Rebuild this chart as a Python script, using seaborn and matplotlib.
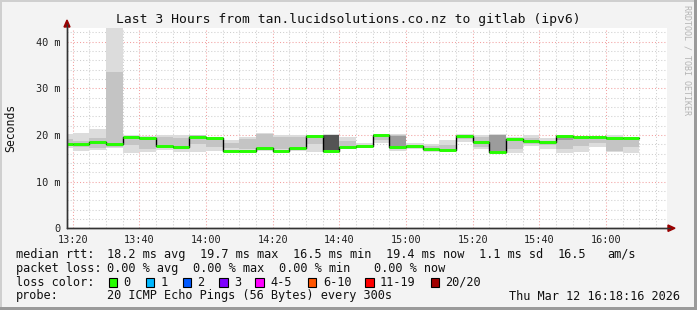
import numpy as np
import matplotlib
matplotlib.use("Agg")
import matplotlib.pyplot as plt
import seaborn as sns
from matplotlib.patches import Rectangle, Polygon
from matplotlib.lines import Line2D

# ---------------- data (ms) ----------------
bin_start = ["13:15", "13:20", "13:25", "13:30", "13:35", "13:40", "13:45", "13:50",
             "13:55", "14:00", "14:05", "14:10", "14:15", "14:20", "14:25", "14:30",
             "14:35", "14:40", "14:45", "14:50", "14:55", "15:00", "15:05", "15:10",
             "15:15", "15:20", "15:25", "15:30", "15:35", "15:40", "15:45", "15:50",
             "15:55", "16:00", "16:05"]
median_ms = [18.1, 18.1, 18.5, 18.0, 19.6, 19.4, 17.6, 17.5, 19.5, 19.3, 16.6, 16.6,
             17.1, 16.6, 17.1, 19.8, 16.6, 17.4, 17.7, 19.9, 17.5, 17.7, 16.9, 16.8,
             19.8, 18.4, 16.4, 19.2, 18.8, 18.5, 19.8, 19.6, 19.6, 19.4, 19.4]
smoke_lo = [17.2, 16.6, 16.8, 17.1, 16.1, 16.4, 16.8, 16.4, 16.4, 16.6, 16.6, 16.3,
            16.6, 16.3, 16.6, 16.4, 16.2, 17.0, 17.1, 18.2, 16.6, 16.9, 16.4, 16.5,
            18.5, 16.9, 16.2, 16.1, 17.6, 16.9, 16.1, 16.4, 17.5, 16.3, 16.1]
smoke_hi = [20.2, 20.5, 21.3, 45.0, 19.9, 19.8, 20.0, 20.0, 20.0, 19.6, 18.9, 19.6,
            20.4, 20.0, 20.0, 20.0, 20.2, 19.5, 18.2, 20.1, 20.2, 18.2, 18.1, 18.9,
            20.2, 20.0, 20.2, 19.5, 20.0, 19.3, 20.0, 19.4, 19.7, 20.0, 19.6]
mid_lo = [17.6, 17.5, 17.1, 17.4, 17.9, 17.0, 17.9, 17.0, 18.0, 17.5, 17.1, 16.9,
          17.3, 16.9, 17.3, 18.0, 16.8, 17.4, 17.3, 19.0, 16.9, 17.2, 16.8, 16.8,
          19.2, 17.5, 16.6, 17.0, 18.0, 17.8, 17.0, 17.7, 18.2, 16.5, 17.5]
mid_hi = [19.2, 18.8, 19.3, 33.5, 19.3, 19.1, 19.6, 19.4, 20.0, 19.2, 18.2, 19.2,
          20.1, 19.5, 19.6, 19.7, 20.0, 18.6, 17.9, 19.9, 20.0, 17.8, 17.6, 17.8,
          20.0, 19.6, 20.0, 19.0, 19.4, 18.6, 19.6, 19.4, 19.2, 19.2, 19.0]
dark_lo = [np.nan] * 20 + [17.3] + [np.nan] * 4 + [np.nan, 16.6] + [np.nan] * 3 + [18.9] + [np.nan] * 4
dark_hi = [np.nan] * 20 + [19.8] + [np.nan] * 4 + [np.nan, 19.9] + [np.nan] * 3 + [19.7] + [np.nan] * 4
darkest_lo = [np.nan] * 16 + [16.8] + [np.nan] * 18
darkest_hi = [np.nan] * 16 + [20.0] + [np.nan] * 18

tick_labels = ["13:20", "13:40", "14:00", "14:20", "14:40", "15:00", "15:20", "15:40", "16:00"]
y_ticks_ms = [0, 10, 20, 30, 40]

title = "Last 3 Hours from tan.lucidsolutions.co.nz to gitlab (ipv6)"
loss_labels = ["0", "1", "2", "3", "4-5", "6-10", "11-19", "20/20"]
loss_colors = ["#26ff00", "#00b8ff", "#0059ff", "#7e00ff", "#ff00ff", "#ff5500", "#ff0000", "#a10000"]


def to_min(s):
    h, m = s.split(":")
    return (int(h) - 13) * 60 + int(m)


starts = np.array([to_min(s) for s in bin_start], dtype=float)
STEP = 5.0
x0, x1 = 18.0 + 16 / 60, 198.0 + 16 / 60

sns.set_style("white")
plt.rcParams['font.family'] = ['DejaVu Sans Mono', 'DejaVu Sans']

W, H = 697, 310
fig = plt.figure(figsize=(W / 100, H / 100), dpi=100, facecolor='#f3f3f3')


def fx(px):
    return px / W


def fy(py):
    return 1 - py / H


ax = fig.add_axes([fx(67), fy(228.2), 600 / W, (228.2 - 27.7) / H])
ax.set_facecolor('white')
ax.set_xlim(x0, x1)
ax.set_ylim(0, 43.0)

# grid
ax.set_xticks([to_min(t) for t in tick_labels])
ax.set_xticks(np.arange(20, 200, 5), minor=True)
ax.set_yticks(y_ticks_ms)
ax.set_yticks(np.arange(0, 43, 2), minor=True)
ax.grid(which='minor', color='#cfcfcf', linestyle=(0, (1, 2)), linewidth=0.75)
ax.grid(which='major', color='#f2a0a0', linestyle=(0, (1, 2)), linewidth=0.75)
ax.set_axisbelow(True)


def draw_layer(lo, hi, color):
    lo = np.array(lo, dtype=float)
    hi = np.array(hi, dtype=float)
    m = ~np.isnan(lo)
    ax.bar(starts[m], hi[m] - lo[m], bottom=lo[m], width=STEP, align='edge',
           color=color, linewidth=0, zorder=2)


draw_layer(smoke_lo, smoke_hi, '#dcdcdc')
draw_layer(mid_lo, mid_hi, '#c4c4c4')
draw_layer(dark_lo, dark_hi, '#9c9c9c')
draw_layer(darkest_lo, darkest_hi, '#545454')

# median black step line
edges = np.append(starts, starts[-1] + STEP)
vals = np.append(median_ms, median_ms[-1])
sns.lineplot(x=edges, y=vals, drawstyle='steps-post', color='black', linewidth=1.0,
             ax=ax, zorder=3, estimator=None, sort=False)
# green loss-colored median
ax.hlines(median_ms, starts, starts + STEP, color=loss_colors[0], linewidth=2.1, zorder=4)

# axes styling
for s in ['top', 'right']:
    ax.spines[s].set_visible(False)
for s in ['left', 'bottom']:
    ax.spines[s].set_color('#333333')
    ax.spines[s].set_linewidth(1.0)
ax.tick_params(which='major', direction='inout', length=4, width=0.8, color='#333333',
               labelsize=7.4, labelcolor='#222222', pad=3)
ax.tick_params(which='minor', length=0)
ax.set_xticklabels(tick_labels)
ax.set_yticklabels(["0" if v == 0 else f"{v} m" for v in y_ticks_ms])
ax.set_xlabel("")
ax.set_ylabel("")

# axis arrows
fig.add_artist(Line2D([fx(67), fx(67)], [fy(228), fy(24)], color='#333333', lw=1.0))
fig.add_artist(Line2D([fx(67), fx(670)], [fy(228.2), fy(228.2)], color='#333333', lw=1.0))
fig.add_artist(Polygon([[fx(64), fy(27)], [fx(70), fy(27)], [fx(67), fy(20)]],
                       closed=True, color='#990000', transform=fig.transFigure))
fig.add_artist(Polygon([[fx(668), fy(225)], [fx(668), fy(231.4)], [fx(675), fy(228.2)]],
                       closed=True, color='#990000', transform=fig.transFigure))

# frame
fig.add_artist(Rectangle((0, fy(2)), 1, 2 / H, color='#cfcfcf', transform=fig.transFigure, lw=0))
fig.add_artist(Rectangle((0, 0), 2 / W, 1, color='#cfcfcf', transform=fig.transFigure, lw=0))
fig.add_artist(Rectangle((0, 0), 1, 3 / H, color='#9a9a9a', transform=fig.transFigure, lw=0))
fig.add_artist(Rectangle((1 - 3 / W, 0), 3 / W, 1, color='#9a9a9a', transform=fig.transFigure, lw=0))

# texts
fig.text(fx(348), fy(19), title, ha='center', va='center', fontsize=9.4, color='#111111')
fig.text(fx(11), fy(128), "Seconds", rotation=90, ha='center', va='center', fontsize=8.3, color='#111111')
fig.text(fx(687), fy(5), "RRDTOOL / TOBI OETIKER", rotation=-90, ha='center', va='top',
         fontsize=6.0, color='#b4b4b4')

FS = 8.55
TC = '#111111'
rows = [254.3, 268.3, 282.3, 296.0]
fig.text(fx(16), fy(rows[0]), "median rtt:", va='center', fontsize=FS, color=TC)
for xp, s in [(107, "18.2 ms avg"), (200, "19.7 ms max"), (293, "16.5 ms min"),
              (386, "19.4 ms now"), (479, "1.1 ms sd"), (558, "16.5"), (607, "am/s")]:
    fig.text(fx(xp), fy(rows[0]), s, va='center', fontsize=FS, color=TC)
fig.text(fx(16), fy(rows[1]), "packet loss:", va='center', fontsize=FS, color=TC)
for xp, s in [(107, "0.00 % avg"), (193, "0.00 % max"), (279, "0.00 % min"), (374, "0.00 % now")]:
    fig.text(fx(xp), fy(rows[1]), s, va='center', fontsize=FS, color=TC)
fig.text(fx(16), fy(rows[2]), "loss color:", va='center', fontsize=FS, color=TC)
box_x = [108.5, 145.7, 182.7, 219.3, 255.3, 307.7, 365.0, 430.7]
lab_x = [123.3, 160.5, 197.5, 234.3, 270.5, 323.0, 380.0, 445.0]
for bx, lx, lab, col in zip(box_x, lab_x, loss_labels, loss_colors):
    fig.add_artist(Rectangle((fx(bx), fy(rows[2] + 4.5)), 8.5 / W, 8.5 / H, facecolor=col,
                             edgecolor='black', lw=0.8, transform=fig.transFigure))
    fig.text(fx(lx), fy(rows[2]), lab, va='center', fontsize=FS, color=TC)
fig.text(fx(16), fy(rows[3]), "probe:", va='center', fontsize=FS, color=TC)
fig.text(fx(107), fy(rows[3]), "20 ICMP Echo Pings (56 Bytes) every 300s", va='center', fontsize=FS, color=TC)
fig.text(fx(680), fy(rows[3]), "Thu Mar 12 16:18:16 2026", ha='right', va='center', fontsize=FS, color=TC)

fig.savefig("out.png", dpi=100, facecolor=fig.get_facecolor())
